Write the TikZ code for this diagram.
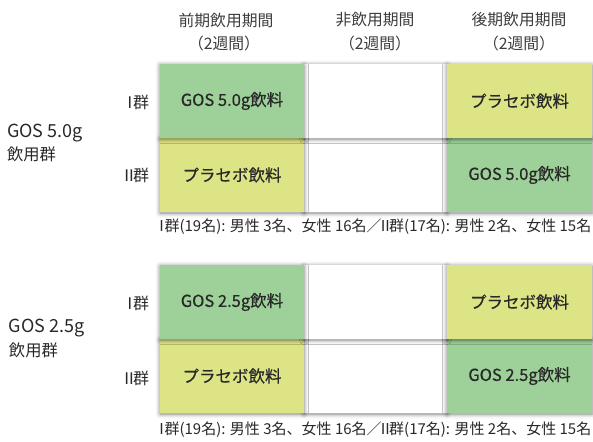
\documentclass[tikz,border=0pt]{standalone}
\usepackage{fontspec}
\setmainfont{Noto Sans CJK JP}
\newfontfamily\medfont[FakeBold=0.6]{Noto Sans CJK JP}
\usetikzlibrary{shadows.blur}
\definecolor{gosgreen}{RGB}{157,209,153}
\definecolor{plyellow}{RGB}{221,228,133}
\definecolor{txt}{RGB}{40,40,40}
\definecolor{hdr}{RGB}{60,60,60}
\newcommand{\fsz}[1]{\fontsize{#1}{#1}\selectfont}
\newcommand{\rI}{\kern-0.33em Ⅰ\kern-0.3em}
\newcommand{\rII}{\kern-0.25em Ⅱ\kern-0.25em}
\begin{document}
\begin{tikzpicture}[x=1pt,y=-1pt,
  every node/.style={inner sep=0pt, outer sep=0pt, text=txt},
  cell/.style={anchor=north west, minimum height=74pt,
    blur shadow={shadow xshift=0pt, shadow yshift=-1pt, shadow blur radius=4.5pt, shadow opacity=50}},
  colA/.style={cell, minimum width=144pt},
  colB/.style={cell, minimum width=143pt},
  colC/.style={cell, minimum width=145pt},
  green/.style={fill=gosgreen},
  yellow/.style={fill=plyellow},
  blank/.style={fill=white},
  lbl/.style={font=\medfont\fsz{16.5}},
  hd/.style={font=\fsz{15.8}, text=hdr, align=center},
  grp/.style={font=\fsz{16}, anchor=east},
  sidebig/.style={font=\fsz{18}, anchor=west},
  side/.style={font=\fsz{16.3}, anchor=west},
  note/.style={font=\fsz{15}, anchor=west}]
\useasboundingbox (0,0) rectangle (593,441);
% headers
\node[hd] (h1a) at (226,20) {前期飲用期間};
\node[hd] (h1b) at (224,43) {（2週間）};
\node[hd] (h2a) at (375,20) {非飲用期間};
\node[hd] (h2b) at (375,43) {（2週間）};
\node[hd] (h3a) at (519,20) {後期飲用期間};
\node[hd] (h3b) at (519,43) {（2週間）};
% top group, row II first (drawn underneath)
\node[colB,blank] (a22) at (304,138) {};
\node[colA,yellow] (a21) at (160,138) {};
\node[colC,green] (a23) at (447,138) {};
\node[colB,blank] (a12) at (304,64) {};
\node[colA,green] (a11) at (160,64) {};
\node[colC,yellow] (a13) at (447,64) {};
\node[lbl] at (a11.center) {GOS 5.0g飲料};
\node[lbl] at (a13.center) {プラセボ飲料};
\node[lbl] at (a21.center) {プラセボ飲料};
\node[lbl] at (a23.center) {GOS 5.0g飲料};
\node[grp] (ga1) at (149,102) {\rI 群};
\node[grp] (ga2) at (149,175) {\rII 群};
\node[sidebig] (sa1) at (7,133) {GOS 5.0g};
\node[side] (sa2) at (7,154) {飲用群};
\node[note] (na) at (159,227) {\rI 群(19名): 男性 3名、女性 16名／\rII 群(17名): 男性 2名、女性 15名};
% bottom group
\node[colB,blank] (b22) at (304,339) {};
\node[colA,yellow] (b21) at (160,339) {};
\node[colC,green] (b23) at (447,339) {};
\node[colB,blank] (b12) at (304,265) {};
\node[colA,green] (b11) at (160,265) {};
\node[colC,yellow] (b13) at (447,265) {};
\node[lbl] at (b11.center) {GOS 2.5g飲料};
\node[lbl] at (b13.center) {プラセボ飲料};
\node[lbl] at (b21.center) {プラセボ飲料};
\node[lbl] at (b23.center) {GOS 2.5g飲料};
\node[grp] (gb1) at (149,303) {\rI 群};
\node[grp] (gb2) at (149,378) {\rII 群};
\node[sidebig] (sb1) at (9,328) {GOS 2.5g};
\node[side] (sb2) at (9,350) {飲用群};
\node[note] (nb) at (159,430) {\rI 群(19名): 男性 3名、女性 16名／\rII 群(17名): 男性 2名、女性 15名};
\end{tikzpicture}
\end{document}
